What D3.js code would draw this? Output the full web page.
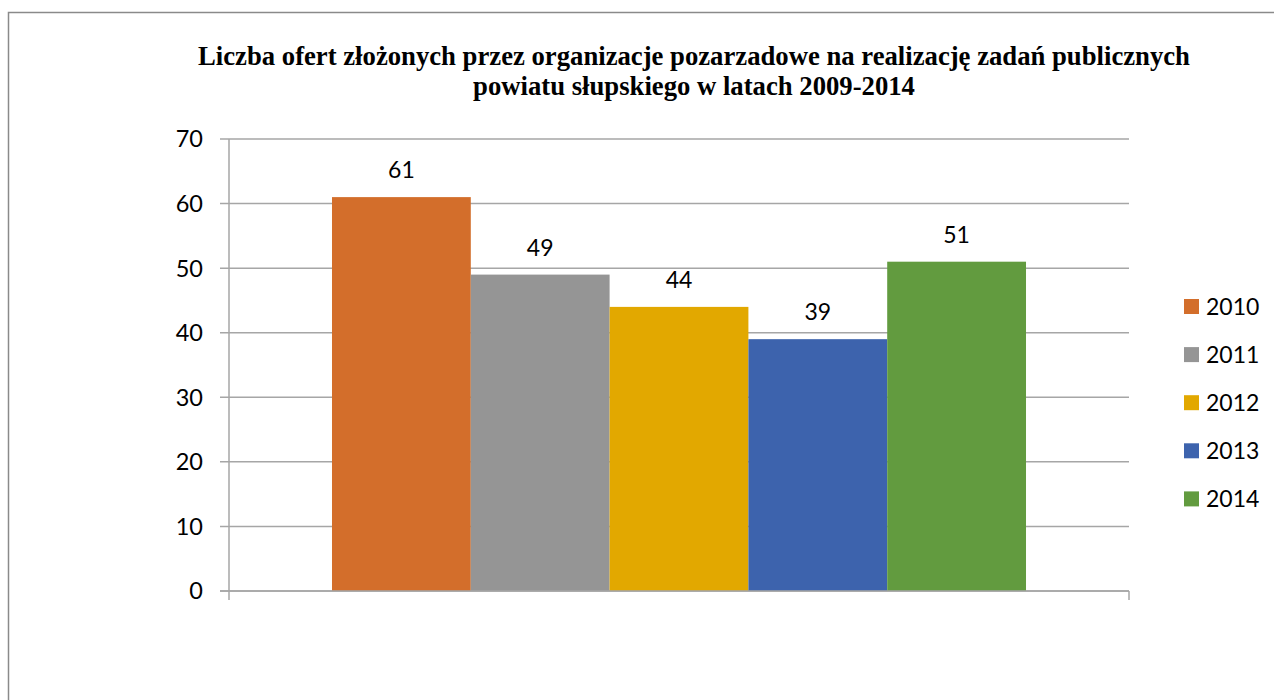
<!DOCTYPE html>
<html><head><meta charset="utf-8">
<script src="https://cdn.jsdelivr.net/npm/d3@7"></script>
<style>html,body{margin:0;padding:0;background:#fff;}svg{display:block;}</style>
</head><body>
<script>
const categories = ["2010","2011","2012","2013","2014"];
const values = [61, 49, 44, 39, 51];
const colors = ["#D36E2B","#959595","#E2A800","#3D63AD","#629B3F"];
const yTicks = [0,10,20,30,40,50,60,70];
const titleLines = ["Liczba ofert złożonych przez organizacje pozarzadowe na realizację zadań publicznych","powiatu słupskiego w latach 2009-2014"];

(function () {
const W = 1274, H = 700;
const svg = d3.select("body").append("svg").attr("width", W).attr("height", H);

// outer border
svg.append("rect").attr("x", 8.5).attr("y", 12.5).attr("width", W + 10).attr("height", H + 10)
  .attr("fill", "none").attr("stroke", "#8a8a8a").attr("stroke-width", 1.5);

const pLeft = 229, pRight = 1129, pTop = 139, pBottom = 591;
const y = d3.scaleLinear().domain([0, 70]).range([pBottom, pTop]);
const x0 = d3.scaleBand().domain(["g"]).range([pLeft, pRight]).paddingInner(0).paddingOuter(0.1484);
const x = d3.scaleBand().domain(categories).range([x0("g"), x0("g") + x0.bandwidth()]);

// gridlines
svg.append("g").selectAll("line").data(yTicks).join("line")
  .attr("x1", pLeft - 9).attr("x2", pRight)
  .attr("y1", d => y(d)).attr("y2", d => y(d))
  .attr("stroke", "#A6A6A6").attr("stroke-width", 1.5);

// y axis line and end ticks
svg.append("line").attr("x1", pLeft).attr("x2", pLeft).attr("y1", pTop).attr("y2", pBottom + 9)
  .attr("stroke", "#A6A6A6").attr("stroke-width", 1.5);
svg.append("line").attr("x1", pRight).attr("x2", pRight).attr("y1", pBottom).attr("y2", pBottom + 9)
  .attr("stroke", "#A6A6A6").attr("stroke-width", 1.5);

// y labels
svg.append("g").selectAll("text").data(yTicks).join("text")
  .attr("x", 203).attr("y", d => y(d)).attr("dy", "0.36em")
  .attr("text-anchor", "end").attr("font-family", "Lato, 'Open Sans', sans-serif")
  .attr("font-size", 23.5).attr("fill", "#000").text(d => d);

// bars
svg.append("g").selectAll("rect").data(categories).join("rect")
  .attr("x", d => x(d)).attr("width", x.bandwidth())
  .attr("y", (d, i) => y(values[i])).attr("height", (d, i) => pBottom - y(values[i]))
  .attr("fill", (d, i) => colors[i]);

// baseline on top of bars
svg.append("line").attr("x1", pLeft - 9).attr("x2", pRight).attr("y1", pBottom).attr("y2", pBottom)
  .attr("stroke", "#A6A6A6").attr("stroke-width", 1.5);

// value labels
svg.append("g").selectAll("text").data(categories).join("text")
  .attr("x", d => x(d) + x.bandwidth() / 2)
  .attr("y", (d, i) => y(values[i]) - 19)
  .attr("text-anchor", "middle").attr("font-family", "Lato, 'Open Sans', sans-serif")
  .attr("font-size", 23).attr("fill", "#000").text((d, i) => values[i]);

// title
svg.append("g").selectAll("text").data(titleLines).join("text")
  .attr("x", 694).attr("y", (d, i) => 65 + i * 30)
  .attr("text-anchor", "middle").attr("font-family", "'Liberation Serif', 'Times New Roman', serif")
  .attr("font-weight", "bold").attr("font-size", 26.7).attr("fill", "#000").text(d => d);

// legend
const lg = svg.append("g").selectAll("g").data(categories).join("g")
  .attr("transform", (d, i) => `translate(1184, ${306.5 + i * 48.1})`);
lg.append("rect").attr("x", 0).attr("y", -7.5).attr("width", 15).attr("height", 15)
  .attr("fill", (d, i) => colors[i]);
lg.append("text").attr("x", 22).attr("y", 0).attr("dy", "0.36em")
  .attr("font-family", "Lato, 'Open Sans', sans-serif").attr("font-size", 23)
  .attr("fill", "#000").text(d => d);
})();
</script>
</body></html>
